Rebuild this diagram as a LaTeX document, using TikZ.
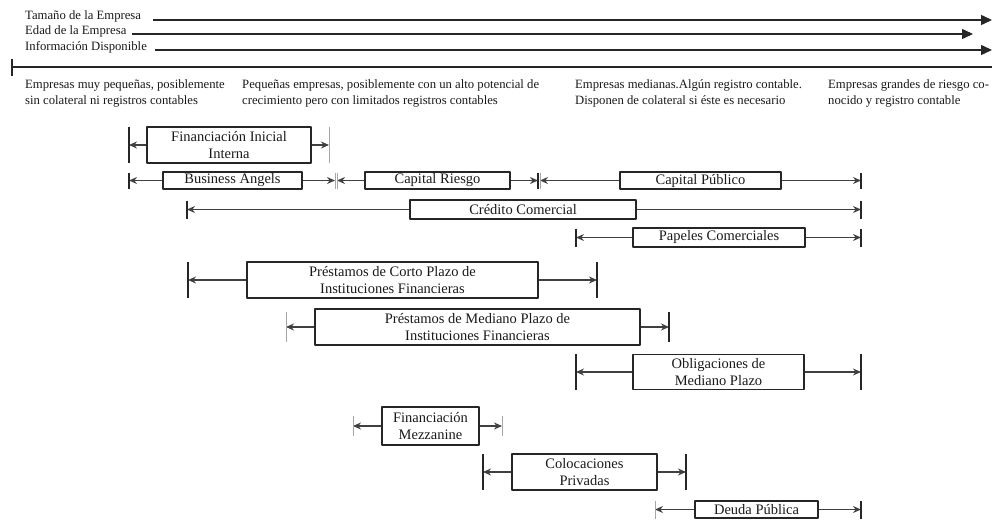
\documentclass[tikz,border=0pt]{standalone}
\usepackage{fontspec}
\setmainfont{Liberation Serif}
\usetikzlibrary{arrows.meta,calc}
\tikzset{
  caja/.style={draw=black!85, line width=1.6pt, inner sep=0pt, align=center, text=black!90, font=\fontsize{14.5}{17}\selectfont},
  flecha/.style={draw=black!75, line width=1.1pt, -{Stealth[length=8pt,width=7pt]}},
  tope/.style={draw=black!85, line width=1.8pt},
  topefino/.style={draw=black!35, line width=0.6pt},
  eje/.style={draw=black!85, line width=1.4pt, -{Triangle[length=11pt,width=10pt]}},
  rotulo/.style={inner sep=0pt, anchor=base west, text=black!90, font=\fontsize{12.7}{16}\selectfont},
  texto/.style={inner sep=0pt, anchor=north west, align=left, text=black!90, font=\fontsize{12.7}{16}\selectfont}
}
\newcommand \mydrawbar[7]
{
\coordinate (#1L) at (#3,#2);
\coordinate (#1R) at (#4,#2);
\draw[flecha] (#1.west |- #1L) -- (#1L);
\draw[flecha] (#1.east |- #1R) -- (#1R);
\draw[#6] ($(#1L)+(0,-#5)$) -- ($(#1L)+(0,#5)$);
\draw[#7] ($(#1R)+(0,-#5)$) -- ($(#1R)+(0,#5)$);
}
\begin{document}
\begin{tikzpicture}[x=1pt, y=-1pt, line join=round]
\useasboundingbox (0,0) rectangle (992,519);
% ejes superiores
\node[rotulo] (tam)  at (25,20) {Tamaño de la Empresa};
\node[rotulo] (edad) at (25,35) {Edad de la Empresa};
\node[rotulo] (info) at (25,51) {Información Disponible};
\coordinate (tamA)  at (153,20); \coordinate (tamB)  at (992,20);
\coordinate (edadA) at (132,34); \coordinate (edadB) at (973,34);
\coordinate (infoA) at (155,50); \coordinate (infoB) at (992,50);
\draw[eje] (tamA)--(tamB);
\draw[eje] (edadA)--(edadB);
\draw[eje] (infoA)--(infoB);
\coordinate (linA) at (12,67); \coordinate (linB) at (992,67);
\draw[draw=black!85, line width=1.4pt] (linA)--(linB);
\draw[tope] ($(linA)+(0,-8)$)--($(linA)+(0,9)$);
% tipos de empresa
\node[texto] (emp1) at (25,79)  {Empresas muy pequeñas, posiblemente\\sin colateral ni registros contables};
\node[texto] (emp2) at (242,79) {Pequeñas empresas, posiblemente con un alto potencial de\\crecimiento pero con limitados registros contables};
\node[texto] (emp3) at (575,79) {Empresas medianas.Algún registro contable.\\Disponen de colateral si éste es necesario};
\node[texto] (emp4) at (828,79) {Empresas grandes de riesgo co-\\nocido y registro contable};
% fuentes de financiacion
\node[caja, minimum width=164, minimum height=36] (fii)   at (229,145)   {Financiación Inicial\\Interna};
\node[caja, minimum width=139, minimum height=17] (ba)    at (232.5,180.5) {Business Angels};
\node[caja, minimum width=145, minimum height=17] (cr)    at (437.5,180.5) {Capital Riesgo};
\node[caja, minimum width=161, minimum height=17] (cp)    at (700.5,180.5) {Capital Público};
\node[caja, minimum width=226, minimum height=19] (cc)    at (523,209.5)   {Crédito Comercial};
\node[caja, minimum width=172, minimum height=19] (pc)    at (719,237.5)   {Papeles Comerciales};
\node[caja, minimum width=291, minimum height=36] (pcp)   at (392.5,280)   {Préstamos de Corto Plazo de\\Instituciones Financieras};
\node[caja, minimum width=325, minimum height=36] (pmp)   at (477.5,327)   {Préstamos de Mediano Plazo de\\Instituciones Financieras};
\node[caja, minimum width=171, minimum height=35] (omp)   at (718.5,372)   {Obligaciones de\\Mediano Plazo};
\node[caja, minimum width=97,  minimum height=38] (mezz)  at (430.5,426)   {Financiación\\Mezzanine};
\node[caja, minimum width=145, minimum height=36] (coloc) at (584.5,472)   {Colocaciones\\Privadas};
\node[caja, minimum width=123, minimum height=17] (deuda) at (756.5,509.5) {Deuda Pública};
\mydrawbar{fii}{145}{129}{329}{18}{tope}{topefino}
\mydrawbar{ba}{180.5}{129}{335}{8}{tope}{topefino}
\mydrawbar{cr}{180.5}{337}{538}{8}{topefino}{tope}
\mydrawbar{cp}{180.5}{540}{861}{8}{topefino}{tope}
\mydrawbar{cc}{209.5}{187}{861}{9}{tope}{tope}
\mydrawbar{pc}{237.5}{576}{861}{9}{tope}{tope}
\mydrawbar{pcp}{280}{188}{597}{18}{tope}{tope}
\mydrawbar{pmp}{327}{286}{669}{15}{topefino}{tope}
\mydrawbar{omp}{372}{576}{861}{18}{tope}{tope}
\mydrawbar{mezz}{426}{353}{502}{10}{topefino}{topefino}
\mydrawbar{coloc}{472}{483}{686}{18}{tope}{tope}
\mydrawbar{deuda}{509.5}{655}{861}{9}{topefino}{tope}
\end{tikzpicture}
\end{document}
